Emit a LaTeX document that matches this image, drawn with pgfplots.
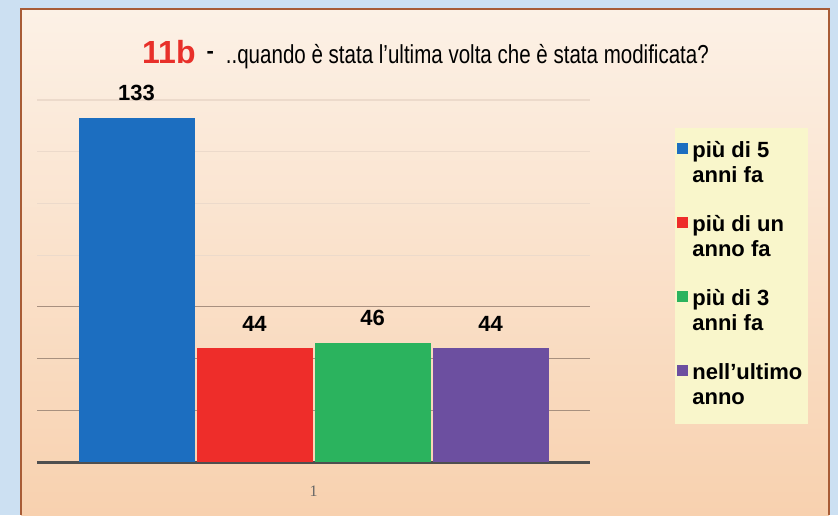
\documentclass[border=0pt]{standalone}
\usepackage{fontspec}
\setmainfont{Liberation Sans}
\newfontfamily\narrowfont[FakeStretch=0.79]{Liberation Sans}
\newfontfamily\tickfont{Liberation Serif}
\usepackage{pgfplots}
\pgfplotsset{compat=1.18}

\definecolor{outerblue}{HTML}{CCE0F2}
\definecolor{framebrown}{HTML}{A85C36}
\definecolor{panelTop}{HTML}{FCF1E6}
\definecolor{panelBottom}{HTML}{F8D1AF}
\definecolor{legendfill}{HTML}{F9F6CB}
\definecolor{titlered}{HTML}{E8302A}
\definecolor{baseGray}{HTML}{4F4F4F}
\definecolor{gridDark}{HTML}{A8907F}
\definecolor{gridFaint}{HTML}{ECDACB}
\definecolor{barBlue}{HTML}{1C6EC0}
\definecolor{barRed}{HTML}{EE2D2A}
\definecolor{barGreen}{HTML}{2BB35E}
\definecolor{barPurple}{HTML}{6C4FA0}

\begin{document}
\begin{tikzpicture}[x=1pt,y=1pt]
\path[use as bounding box] (0,0) rectangle (838,-515);
\fill[outerblue] (0,0) rectangle (838,-515);
\shade[top color=panelTop, bottom color=panelBottom] (21,-9) rectangle (829,-515);
\draw[framebrown, line width=2.5pt] (21,-515) -- (21,-9) -- (829,-9) -- (829,-515);

% title
\node[anchor=base west, inner sep=0pt] at (142,-63)
  {{\color{titlered}\bfseries\fontsize{32}{32}\selectfont 11b}\hspace{11pt}\raisebox{5pt}{\bfseries\fontsize{22}{22}\selectfont -}\hspace{12pt}{\narrowfont\fontsize{26}{26}\selectfont ..quando è stata l’ultima volta che è stata modificata?}};

\begin{axis}[
    at={(37pt,-462pt)},
    anchor=south west,
    scale only axis,
    width=553pt,
    height=362pt,
    xmin=0.5, xmax=1.5,
    ymin=0, ymax=140,
    enlargelimits=false,
    ybar=2pt,
    bar width=116pt,
    axis x line*=bottom,
    axis y line*=left,
    x axis line style={line width=3pt, draw=baseGray, -},
    y axis line style={draw=none},
    xtick={1},
    xticklabel style={font=\tickfont\fontsize{16}{16}\selectfont, text=black!60, yshift=-20pt},
    major tick length=0pt,
    ytick={20,40,60},
    yticklabels={},
    extra y ticks={80,100,120,140},
    extra y tick labels={},
    ymajorgrids,
    grid style={draw=gridDark, line width=1.2pt},
    extra y tick style={grid style={draw=gridFaint, line width=1.2pt}},
    /pgf/number format/assume math mode=true,
    nodes near coords,
    every node near coord/.append style={font=\bfseries\fontsize{22}{22}\selectfont, text=black, inner sep=0pt, yshift=17pt},
    legend cell align=left,
    legend style={at={(1.154,0.9227)}, anchor=north west, fill=legendfill, draw=none,
        inner xsep=2pt, inner ysep=0pt, row sep=0pt,
        nodes={inner xsep=4pt},
        font=\bfseries\fontsize{22}{25}\selectfont},
    legend image code/.code={\fill[#1,draw=none] (0pt,-4.5pt) rectangle (11pt,6.5pt); \path[fill=none,draw=none] (0pt,-53pt) -- (0pt,21pt);},
]
\addplot[fill=barBlue, draw=none] coordinates {(1,133)};
\addlegendentry{\begin{tabular}[t]{@{}l@{}}più di 5\\anni fa\end{tabular}}
\addplot[fill=barRed, draw=none] coordinates {(1,44)};
\addlegendentry{\begin{tabular}[t]{@{}l@{}}più di un\\anno fa\end{tabular}}
\addplot[fill=barGreen, draw=none] coordinates {(1,46)};
\addlegendentry{\begin{tabular}[t]{@{}l@{}}più di 3\\anni fa\end{tabular}}
\addplot[fill=barPurple, draw=none] coordinates {(1,44)};
\addlegendentry{\begin{tabular}[t]{@{}l@{}}nell’ultimo\\anno\end{tabular}}
\end{axis}
\end{tikzpicture}
\end{document}
